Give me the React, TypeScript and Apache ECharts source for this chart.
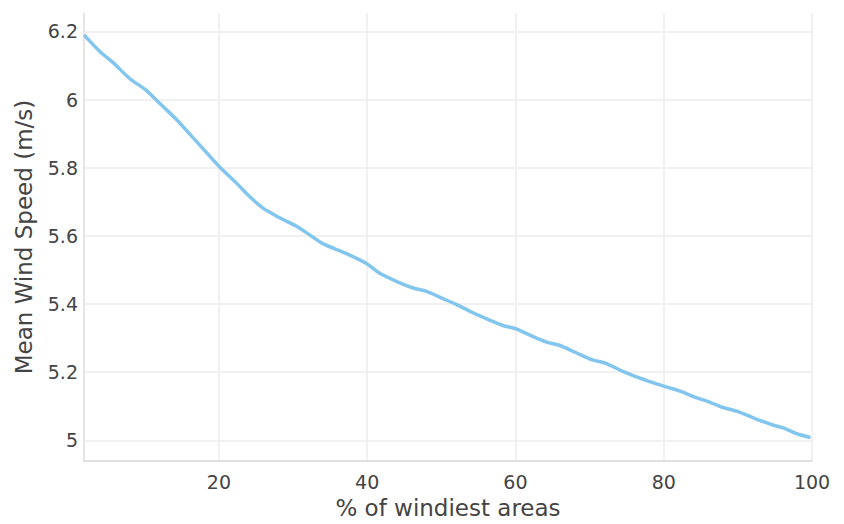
import React, { useEffect, useRef } from "react";
import * as echarts from "echarts";

const xPercent = [1.8, 3.9, 5.7, 8.0, 10.2, 12.0, 14.3, 16.1, 18.3, 20.1, 22.4, 24.1, 25.9, 28.2, 30.4, 32.7, 34.0, 37.2, 39.9, 41.7, 44.4, 46.2, 48.0, 50.2, 52.0, 54.2, 56.5, 58.3, 60.1, 62.3, 64.1, 65.9, 68.2, 70.4, 72.2, 74.4, 76.7, 78.0, 80.3, 82.1, 84.3, 86.1, 87.9, 90.2, 92.4, 94.7, 96.0, 98.3, 99.8];
const meanWind = [6.19, 6.142, 6.109, 6.061, 6.027, 5.989, 5.941, 5.898, 5.845, 5.802, 5.754, 5.716, 5.682, 5.653, 5.629, 5.596, 5.577, 5.548, 5.519, 5.49, 5.462, 5.447, 5.437, 5.416, 5.399, 5.375, 5.353, 5.337, 5.327, 5.305, 5.289, 5.279, 5.257, 5.236, 5.226, 5.203, 5.183, 5.173, 5.157, 5.145, 5.126, 5.113, 5.097, 5.083, 5.063, 5.045, 5.037, 5.017, 5.008];

const xTitle = "% of windiest areas";
const yTitle = "Mean Wind Speed (m/s)";

export default function App() {
  const ref = useRef<HTMLDivElement>(null);
  useEffect(() => {
    if (!ref.current) return;
    const chart = echarts.init(ref.current, null, { renderer: "svg" });
    const font = "DejaVu Sans, Verdana, sans-serif";
    chart.setOption({
      animation: false,
      backgroundColor: "#ffffff",
      grid: { left: 84, right: 32, top: 13, bottom: 54 },
      xAxis: {
        type: "value",
        min: 1.8,
        max: 100,
        splitNumber: 5,
        name: xTitle,
        nameLocation: "middle",
        nameGap: 27,
        nameTextStyle: { fontFamily: font, fontSize: 23, color: "#444" },
        axisLine: { show: true, lineStyle: { color: "#d6d6d6", width: 1.5 } },
        axisTick: { show: false },
        axisLabel: { fontFamily: font, fontSize: 19, color: "#444", margin: 11, showMinLabel: false },
        splitLine: { show: true, lineStyle: { color: "#ececec", width: 1.5 } },
      },
      yAxis: {
        type: "value",
        min: 4.939,
        max: 6.254,
        splitNumber: 6,
        name: yTitle,
        nameLocation: "middle",
        nameGap: 49,
        nameTextStyle: { fontFamily: font, fontSize: 23, color: "#444" },
        axisLine: { show: true, lineStyle: { color: "#e2e2e2", width: 1.5 } },
        axisTick: { show: false },
        axisLabel: {
          fontFamily: font,
          fontSize: 19,
          color: "#444",
          margin: 6,
          showMinLabel: false,
          showMaxLabel: false,
          formatter: (v: number) => String(Math.round(v * 10) / 10),
        },
        splitLine: { show: true, showMinLine: false, showMaxLine: false, lineStyle: { color: "#ececec", width: 1.5 } },
      },
      series: [
        {
          type: "line",
          data: xPercent.map((x, i) => [x, meanWind[i]]),
          showSymbol: false,
          smooth: 0.3,
          lineStyle: { color: "#82c6ef", width: 3.5 },
        },
      ],
    });
    return () => chart.dispose();
  }, []);
  return <div ref={ref} style={{ width: 844, height: 524, position: "absolute", left: 0, top: 0 }} />;
}
